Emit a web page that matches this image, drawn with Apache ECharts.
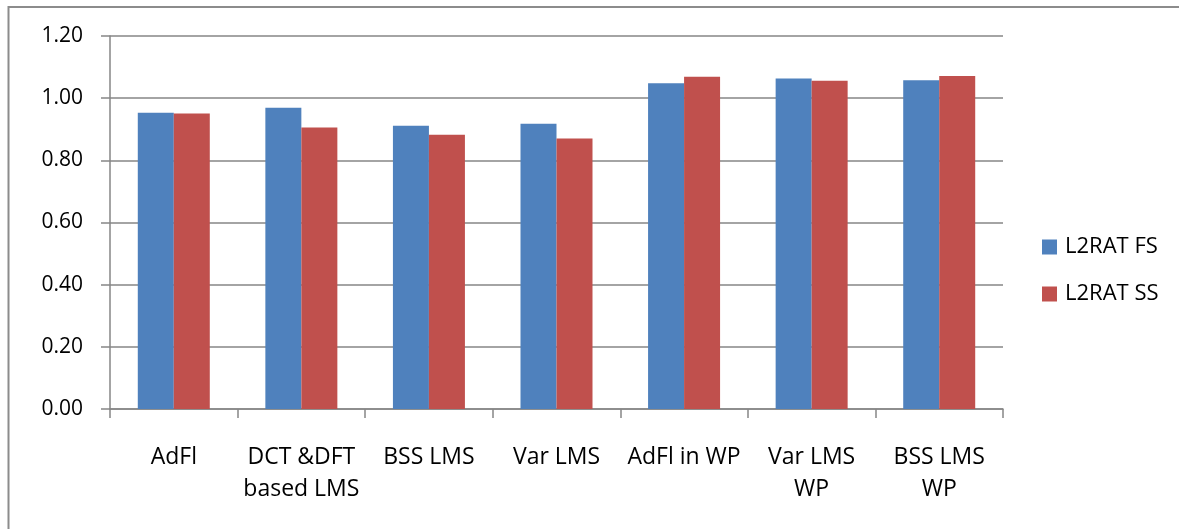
<!DOCTYPE html>
<html>
<head>
<meta charset="utf-8">
<script src="https://cdn.jsdelivr.net/npm/echarts@6/dist/echarts.min.js"></script>
<style>
  html, body { margin: 0; padding: 0; background: #fff; }
  #chart { width: 1179px; height: 529px; }
</style>
</head>
<body>
<div id="chart"></div>
<script>
// Methods compared
const categories = ['AdFl', 'DCT &DFT\nbased LMS', 'BSS LMS', 'Var LMS', 'AdFl in WP', 'Var LMS\nWP', 'BSS LMS\nWP'];
// L2RAT values per method
const l2ratFS = [0.953, 0.969, 0.911, 0.918, 1.048, 1.063, 1.058];
const l2ratSS = [0.951, 0.906, 0.882, 0.870, 1.069, 1.056, 1.071];
const seriesNames = ['L2RAT FS', 'L2RAT SS'];

const font = '"Open Sans", Lato, sans-serif';
const axisGrey = '#868686';

const chart = echarts.init(document.getElementById('chart'), null, { renderer: 'canvas' });
chart.setOption({
  animation: false,
  backgroundColor: '#fff',
  // chart-area frame (runs past the right and bottom edges)
  graphic: [{
    type: 'rect',
    shape: { x: 8.5, y: 7, width: 1200, height: 560 },
    style: { fill: 'none', stroke: '#8c8c8c', lineWidth: 2 },
    silent: true
  }],
  grid: { left: 110, right: 176, top: 36, bottom: 120, containLabel: false },
  legend: {
    orient: 'vertical',
    left: 1037,
    top: 231,
    itemWidth: 15,
    itemHeight: 15,
    itemGap: 25,
    icon: 'rect',
    textStyle: { fontFamily: font, fontSize: 22, color: '#000', padding: [0, 0, 0, 3] },
    data: seriesNames
  },
  xAxis: {
    type: 'category',
    data: categories,
    axisLine: { lineStyle: { color: axisGrey, width: 1.5 } },
    axisTick: { show: true, length: 9, lineStyle: { color: axisGrey, width: 1.5 } },
    axisLabel: { fontFamily: font, fontSize: 23, color: '#000', margin: 32, lineHeight: 32, interval: 0 }
  },
  yAxis: {
    type: 'value',
    min: 0,
    max: 1.2,
    interval: 0.2,
    axisLine: { show: true, lineStyle: { color: axisGrey, width: 1.5 } },
    axisTick: { show: true, inside: false, length: 9, lineStyle: { color: axisGrey, width: 1.5 } },
    axisLabel: { fontFamily: font, fontSize: 21, color: '#000', margin: 27, formatter: v => v.toFixed(2) },
    splitLine: { show: true, lineStyle: { color: axisGrey, width: 1.5 } }
  },
  series: [
    {
      name: seriesNames[0],
      type: 'bar',
      data: l2ratFS,
      barWidth: 36,
      barGap: '0%',
      itemStyle: { color: '#4f81bd' }
    },
    {
      name: seriesNames[1],
      type: 'bar',
      data: l2ratSS,
      barWidth: 36,
      barGap: '0%',
      itemStyle: { color: '#c0504d' }
    }
  ]
});
</script>
</body>
</html>
